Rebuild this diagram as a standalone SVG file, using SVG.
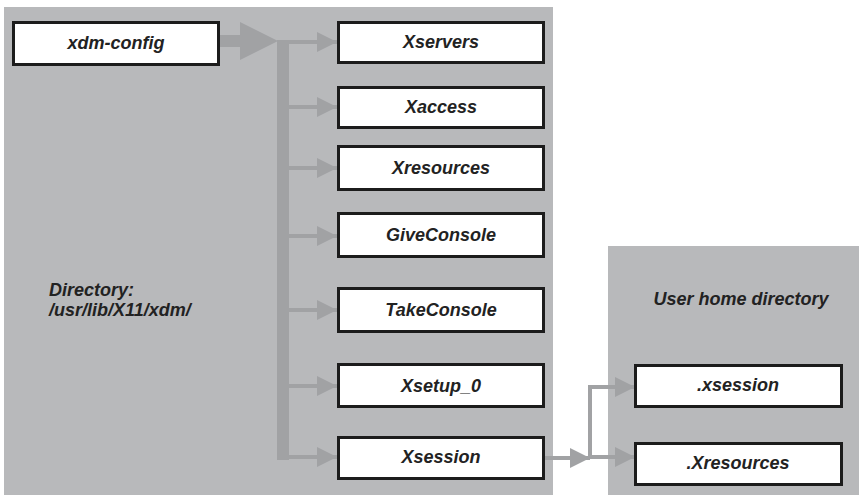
<svg xmlns="http://www.w3.org/2000/svg" width="859" height="495" viewBox="0 0 859 495">
<style>
.panel{fill:#b8b9bb}
.box{fill:#ffffff;stroke:#1c1c1c;stroke-width:3}
.lbl{font-family:"Liberation Sans",Arial,sans-serif;font-weight:bold;font-style:italic;font-size:18px;fill:#222222;text-anchor:middle}
.dir{font-family:"Liberation Sans",Arial,sans-serif;font-weight:bold;font-style:italic;font-size:18px;fill:#222222}
.conn{stroke:#a1a2a4;stroke-width:4;fill:none}
.fillc{fill:#a1a2a4}
</style>
<defs>
<marker id="ah" viewBox="0 0 20 20" markerWidth="20" markerHeight="20" refX="20" refY="10" markerUnits="userSpaceOnUse" orient="auto">
<path d="M0,0 L20,10 L0,20 Z" fill="#a1a2a4"/>
</marker>
</defs>
<rect class="panel" x="4" y="7" width="549" height="488"/>
<rect class="panel" x="608" y="246" width="251" height="249"/>
<text class="dir" x="49" y="296">Directory:</text>
<text class="dir" x="49" y="316">/usr/lib/X11/xdm/</text>
<text class="lbl" x="741" y="305">User home directory</text>
<g id="connectors">
<rect class="fillc" x="220" y="35" width="21" height="12"/>
<polygon class="fillc" points="240,22 278,41 240,60"/>
<rect class="fillc" x="277" y="40" width="12" height="420"/>
<line class="conn" x1="288" y1="42" x2="337" y2="42" marker-end="url(#ah)"/>
<line class="conn" x1="288" y1="107" x2="337" y2="107" marker-end="url(#ah)"/>
<line class="conn" x1="288" y1="168" x2="337" y2="168" marker-end="url(#ah)"/>
<line class="conn" x1="288" y1="236" x2="337" y2="236" marker-end="url(#ah)"/>
<line class="conn" x1="288" y1="310" x2="337" y2="310" marker-end="url(#ah)"/>
<line class="conn" x1="288" y1="386" x2="337" y2="386" marker-end="url(#ah)"/>
<line class="conn" x1="288" y1="457" x2="337" y2="457" marker-end="url(#ah)"/>
<line class="conn" x1="545" y1="458" x2="590" y2="458" marker-end="url(#ah)"/>
<polyline class="conn" points="590,458 590,387 635,387" marker-end="url(#ah)"/>
<line class="conn" x1="588" y1="457" x2="635" y2="457" marker-end="url(#ah)"/>
</g>
<g id="xdm-config"><rect class="box" x="13.5" y="22.5" width="205" height="42"/><text class="lbl" x="116" y="49">xdm-config</text></g>
<g id="Xservers"><rect class="box" x="338.5" y="22.5" width="205" height="40"/><text class="lbl" x="441" y="48">Xservers</text></g>
<g id="Xaccess"><rect class="box" x="338.5" y="87.5" width="205" height="40"/><text class="lbl" x="441" y="113">Xaccess</text></g>
<g id="Xresources"><rect class="box" x="338.5" y="146.5" width="205" height="43"/><text class="lbl" x="441" y="174">Xresources</text></g>
<g id="GiveConsole"><rect class="box" x="338.5" y="213.5" width="205" height="43"/><text class="lbl" x="441" y="241">GiveConsole</text></g>
<g id="TakeConsole"><rect class="box" x="338.5" y="288.5" width="205" height="43"/><text class="lbl" x="441" y="316">TakeConsole</text></g>
<g id="Xsetup_0"><rect class="box" x="338.5" y="364.5" width="205" height="42"/><text class="lbl" x="441" y="392">Xsetup_0</text></g>
<g id="Xsession"><rect class="box" x="338.5" y="437.5" width="205" height="41"/><text class="lbl" x="441" y="463">Xsession</text></g>
<g id="dot-xsession"><rect class="box" x="635.5" y="365.5" width="206" height="41"/><text class="lbl" x="738" y="391">.xsession</text></g>
<g id="dot-Xresources"><rect class="box" x="635.5" y="443.5" width="206" height="41"/><text class="lbl" x="738" y="469">.Xresources</text></g>
</svg>
